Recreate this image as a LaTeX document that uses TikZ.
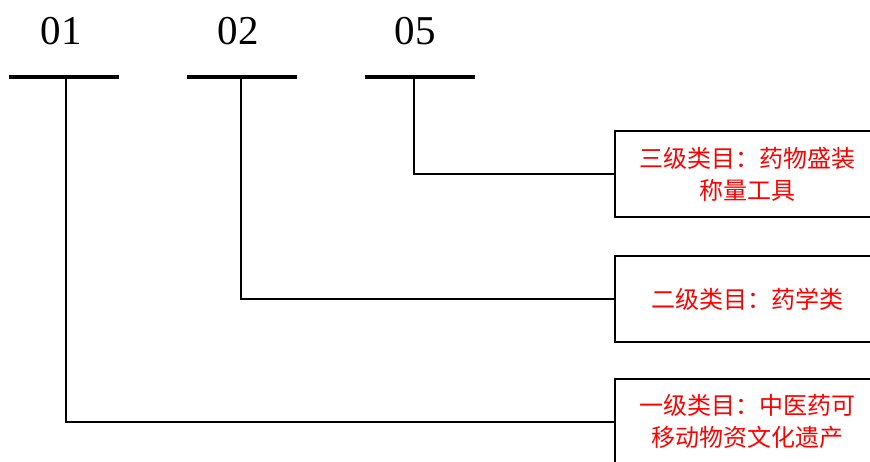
\documentclass[tikz,border=0pt]{standalone}
\usepackage{fontspec}
\setmainfont{Liberation Serif}
\newfontfamily\cjk{Noto Sans CJK SC}
\usetikzlibrary{positioning,calc}

\begin{document}
\begin{tikzpicture}[x=1pt, y=-1pt,
    code/.style={anchor=base, font=\fontsize{41}{41}\selectfont},
    bar/.style={draw=none, fill=black, minimum width=110pt, minimum height=4pt, inner sep=0pt},
    link/.style={line width=1.5pt},
    cat/.style={draw, line width=1.8pt, anchor=north west, minimum width=266pt, minimum height=86pt,
      inner sep=0pt, align=center, text=red, font=\cjk\fontsize{24}{32}\selectfont}]
      \useasboundingbox (0,0) rectangle (870,461);
      \clip (0,0) rectangle (870,461);

      % code digits and their bars
      \node[code] (d_1) at (61,44) {01};
      \node[code] (d_2) at (238,44) {02};
      \node[code] (d_3) at (415,44) {05};
      \node[bar] (b_1) at (64,77) {};
      \node[bar] (b_2) at (242,77) {};
      \node[bar] (b_3) at (420,77) {};
      \coordinate (s_1) at (66,77);
      \coordinate (s_2) at (241,77);
      \coordinate (s_3) at (414,77);

      % category boxes
      \node[cat] (c_3) at (614,130) {三级类目：药物盛装\\称量工具};
      \node[cat] (c_2) at (614,255) {二级类目：药学类};
      \node[cat] (c_1) at (614,378) {一级类目：中医药可\\移动物资文化遗产};

      \draw[link] (s_3) |- (c_3.west);
      \draw[link] (s_2) |- (c_2.west);
      \draw[link] (s_1) |- (c_1.west);
\end{tikzpicture}
\end{document}
